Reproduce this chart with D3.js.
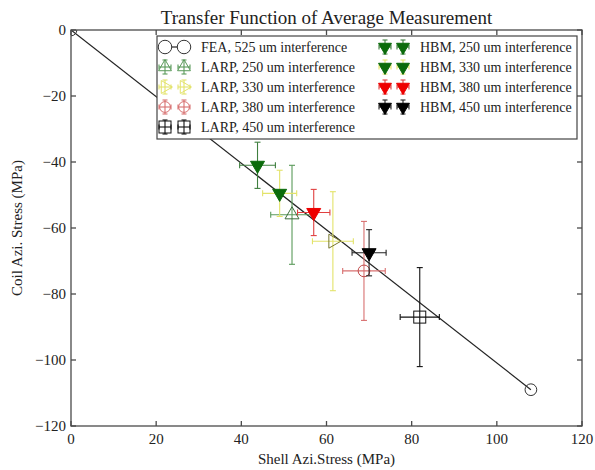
<!DOCTYPE html>
<html>
<head>
<meta charset="utf-8">
<script src="https://cdn.jsdelivr.net/npm/d3@7"></script>
<style>
  body { margin: 0; background: #fff; }
  svg text { font-family: "Liberation Serif", "DejaVu Serif", serif; fill: #222; }
</style>
</head>
<body>
<div id="chart"></div>
<script>
// FEA transfer line
const feaX = [0, 108];
const feaY = [0, -109];

// LARP measurements
const larpLabels = ["LARP, 250 um interference", "LARP, 330 um interference", "LARP, 380 um interference", "LARP, 450 um interference"];
const larpX = [51.9, 61.5, 68.8, 81.9];
const larpY = [-56, -64, -73, -87];
const larpXErr = [5, 4.8, 5, 4.6];
const larpYErr = [15, 15, 15, 15];

// HBM measurements
const hbmLabels = ["HBM, 250 um interference", "HBM, 330 um interference", "HBM, 380 um interference", "HBM, 450 um interference"];
const hbmX = [43.8, 49.0, 57.0, 70.0];
const hbmY = [-41, -49.5, -55.3, -67.5];
const hbmXErr = [4.2, 4, 3.8, 4];
const hbmYErr = [7, 7, 7, 7];

const xTicks = [0, 20, 40, 60, 80, 100, 120];
const yTicks = [0, -20, -40, -60, -80, -100, -120];

const width = 595, height = 470;
const margin = { top: 30, right: 13, bottom: 44, left: 71 };
const iw = width - margin.left - margin.right;
const ih = height - margin.top - margin.bottom;

const svg = d3.select("#chart").append("svg")
    .attr("width", width).attr("height", height);

svg.append("defs").append("clipPath").attr("id", "plotclip")
    .append("rect").attr("width", iw).attr("height", ih);

const g = svg.append("g").attr("transform", `translate(${margin.left},${margin.top})`);
const data = g.append("g").attr("clip-path", "url(#plotclip)");

const x = d3.scaleLinear().domain([0, 120]).range([0, iw]);
const y = d3.scaleLinear().domain([-120, 0]).range([ih, 0]);

// marker styles per series
const larpStyle = [
    { shape: "triUp", edge: "#3d6e3d", err: "#5a9a5a" },
    { shape: "triRight", edge: "#77772e", err: "#e3e36a" },
    { shape: "circle", edge: "#c04a4a", err: "#d87070" },
    { shape: "square", edge: "#111", err: "#111" }
];
const hbmStyle = [
    { fill: "#0b6b0b", err: "#3f7f3f" },
    { fill: "#0b6b0b", err: "#e3e36a" },
    { fill: "#ee0000", err: "#e04040" },
    { fill: "#000", err: "#222" }
];

function marker(sel, shape, cx, cy, s, fill, stroke) {
    let m;
    if (shape === "circle") {
        m = sel.append("circle").attr("cx", cx).attr("cy", cy).attr("r", s * 0.45);
    } else if (shape === "square") {
        m = sel.append("rect").attr("x", cx - s / 2).attr("y", cy - s / 2).attr("width", s).attr("height", s);
    } else {
        const rot = { triUp: 0, triDown: 180, triRight: 90 }[shape];
        m = sel.append("path")
            .attr("d", d3.symbol(d3.symbolTriangle, s * s * 0.5)())
            .attr("transform", `translate(${cx},${cy}) rotate(${rot})`);
    }
    m.attr("fill", fill).attr("stroke", stroke).attr("stroke-width", 1);
}

function errbar(sel, px, py, x0, x1, y0, y1, color, cap) {
    const e = sel.append("g").attr("stroke", color).attr("stroke-width", 1.1).attr("fill", "none");
    e.append("line").attr("x1", x0).attr("x2", x1).attr("y1", py).attr("y2", py);
    e.append("line").attr("x1", px).attr("x2", px).attr("y1", y0).attr("y2", y1);
    e.append("line").attr("x1", x0).attr("x2", x0).attr("y1", py - cap).attr("y2", py + cap);
    e.append("line").attr("x1", x1).attr("x2", x1).attr("y1", py - cap).attr("y2", py + cap);
    e.append("line").attr("x1", px - cap).attr("x2", px + cap).attr("y1", y0).attr("y2", y0);
    e.append("line").attr("x1", px - cap).attr("x2", px + cap).attr("y1", y1).attr("y2", y1);
}

// FEA line
const fea = feaX.map((v, i) => [v, feaY[i]]);
data.append("path").datum(fea)
    .attr("d", d3.line().x(d => x(d[0])).y(d => y(d[1])))
    .attr("fill", "none").attr("stroke", "#222").attr("stroke-width", 1.2);
fea.forEach(d => marker(data, "circle", x(d[0]), y(d[1]), 13, "none", "#333"));

// LARP series
larpX.forEach((v, i) => {
    const st = larpStyle[i];
    errbar(data, x(v), y(larpY[i]), x(v - larpXErr[i]), x(v + larpXErr[i]),
        y(larpY[i] + larpYErr[i]), y(larpY[i] - larpYErr[i]), st.err, 3);
    marker(data, st.shape, x(v), y(larpY[i]), st.shape === "square" ? 12 : 13, "none", st.edge);
});

// HBM series
hbmX.forEach((v, i) => {
    const st = hbmStyle[i];
    errbar(data, x(v), y(hbmY[i]), x(v - hbmXErr[i]), x(v + hbmXErr[i]),
        y(hbmY[i] + hbmYErr[i]), y(hbmY[i] - hbmYErr[i]), st.err, 3);
    marker(data, "triDown", x(v), y(hbmY[i]), 13, st.fill, st.fill);
});

// frame + inward ticks on all sides
const frame = g.append("g").attr("stroke", "#4a4a4a").attr("stroke-width", 1.3);
frame.append("rect").attr("width", iw).attr("height", ih).attr("fill", "none");
xTicks.forEach(t => {
    frame.append("line").attr("x1", x(t)).attr("x2", x(t)).attr("y1", ih).attr("y2", ih - 5);
    frame.append("line").attr("x1", x(t)).attr("x2", x(t)).attr("y1", 0).attr("y2", 5);
});
yTicks.forEach(t => {
    frame.append("line").attr("x1", 0).attr("x2", 5).attr("y1", y(t)).attr("y2", y(t));
    frame.append("line").attr("x1", iw).attr("x2", iw - 5).attr("y1", y(t)).attr("y2", y(t));
});

const fmt = d3.format("d");
g.selectAll(".xt").data(xTicks).enter().append("text")
    .attr("x", d => x(d)).attr("y", ih + 18)
    .attr("text-anchor", "middle").attr("font-size", 15).text(d => fmt(d));
g.selectAll(".yt").data(yTicks).enter().append("text")
    .attr("x", -5).attr("y", d => y(d) + 5)
    .attr("text-anchor", "end").attr("font-size", 15).text(d => fmt(d));

// titles
svg.append("text").attr("x", margin.left + iw / 2).attr("y", 24)
    .attr("text-anchor", "middle").attr("font-size", 19)
    .text("Transfer Function of Average Measurement");
svg.append("text").attr("x", margin.left + iw / 2).attr("y", 464)
    .attr("text-anchor", "middle").attr("font-size", 15)
    .text("Shell Azi.Stress (MPa)");
svg.append("text").attr("transform", `translate(22,${margin.top + ih / 2}) rotate(-90)`)
    .attr("text-anchor", "middle").attr("font-size", 15)
    .text("Coil Azi. Stress (MPa)");

// legend
const leg = svg.append("g").attr("transform", "translate(157,36)");
leg.append("rect").attr("width", 420).attr("height", 103)
    .attr("fill", "#fff").attr("stroke", "#444").attr("stroke-width", 1.2);
const rowY = i => 11 + i * 20;
const m1 = 8, m2 = 27;

// FEA legend row
leg.append("line").attr("x1", m1).attr("x2", m2).attr("y1", rowY(0)).attr("y2", rowY(0))
    .attr("stroke", "#222").attr("stroke-width", 1.2);
[m1, m2].forEach(mx => marker(leg, "circle", mx, rowY(0), 15, "#fff", "#333"));
leg.append("text").attr("x", 44).attr("y", rowY(0) + 5).attr("font-size", 14)
    .text("FEA, 525 um interference");

larpLabels.forEach((lab, i) => {
    const st = larpStyle[i];
    const ry = rowY(i + 1);
    [m1, m2].forEach(mx => {
        errbar(leg, mx, ry, mx - 6, mx + 6, ry - 7, ry + 7, st.err, 2.5);
        marker(leg, st.shape, mx, ry, 12, "none", st.shape === "square" ? "#111" : st.err);
    });
    leg.append("text").attr("x", 44).attr("y", ry + 5).attr("font-size", 14).text(lab);
});

const c2 = 228, n1 = c2, n2 = c2 + 18;
hbmLabels.forEach((lab, i) => {
    const st = hbmStyle[i];
    const ry = rowY(i);
    [n1, n2].forEach(mx => {
        errbar(leg, mx, ry, mx - 6, mx + 6, ry - 7, ry + 7, st.err, 2.5);
        marker(leg, "triDown", mx, ry, 12, st.fill, st.fill);
    });
    leg.append("text").attr("x", c2 + 35).attr("y", ry + 5).attr("font-size", 14).text(lab);
});
</script>
</body>
</html>
